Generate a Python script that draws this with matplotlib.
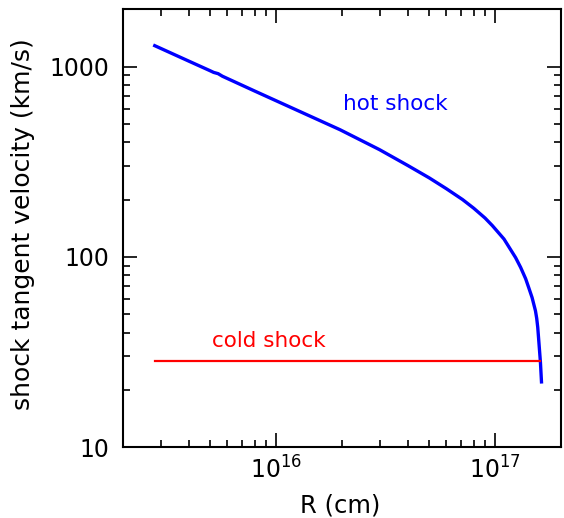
import matplotlib
matplotlib.use('Agg')
import matplotlib.pyplot as plt
from matplotlib.ticker import FixedLocator, FixedFormatter, LogLocator, NullFormatter

# hot shock tangent velocity vs radius
r_hot = [2.80e15, 4.0e15, 5.0e15, 5.2e15, 5.45e15, 5.7e15, 8.0e15, 1.2e16,
         1.96e16, 2.97e16, 4.0e16, 5.01e16, 6.0e16, 7.11e16, 8.0e16, 9.0e16,
         9.72e16, 1.099e17, 1.242e17, 1.309e17, 1.38e17, 1.427e17, 1.477e17,
         1.53e17, 1.55e17, 1.567e17, 1.584e17, 1.612e17, 1.630e17]
v_hot = [1288, 1069, 952, 932, 918, 890, 744, 602,
         466, 366, 302, 260, 228, 200, 180, 160,
         146, 124, 99, 88, 76.7, 68.6, 61,
         52, 47.5, 42.6, 36.3, 27.9, 22.0]

# cold shock stays flat
r_cold = [2.80e15, 1.600e17]
v_cold = [28.2, 28.2]

y_ticks = [10, 100, 1000]
y_labels = ['10', '100', '1000']

plt.rcParams['font.family'] = 'DejaVu Sans'

fig = plt.figure(figsize=(5.64, 5.18), dpi=100)
ax = fig.add_axes([0.2176, 0.137, 0.777, 0.845])

ax.plot(r_hot, v_hot, color='blue', lw=2.4, solid_joinstyle='round')
ax.plot(r_cold, v_cold, color='red', lw=1.6)

ax.set_xscale('log')
ax.set_yscale('log')
ax.set_xlim(2e15, 2e17)
ax.set_ylim(10, 2000)

ax.yaxis.set_major_locator(FixedLocator(y_ticks))
ax.yaxis.set_major_formatter(FixedFormatter(y_labels))
ax.yaxis.set_minor_locator(LogLocator(base=10, subs=range(2, 10)))
ax.yaxis.set_minor_formatter(NullFormatter())
ax.xaxis.set_minor_locator(LogLocator(base=10, subs=range(2, 10)))
ax.xaxis.set_minor_formatter(NullFormatter())

ax.tick_params(which='both', direction='in', top=True, right=True,
               width=1.2, labelsize=17)
ax.tick_params(axis='y', pad=10)
ax.tick_params(axis='x', pad=7)
ax.tick_params(which='major', length=10)
ax.tick_params(which='minor', length=5)
for s in ax.spines.values():
    s.set_linewidth(1.5)

ax.set_xlabel('R (cm)', fontsize=17.5)
ax.set_ylabel('shock tangent velocity (km/s)', fontsize=18)
ax.xaxis.set_label_coords(0.496, -0.106)
ax.yaxis.set_label_coords(-0.2, 0.51)

ax.text(3.5e16, 593, 'hot shock', color='blue', fontsize=15.5,
        ha='center', va='baseline')
ax.text(9.26e15, 33.4, 'cold shock', color='red', fontsize=15.5,
        ha='center', va='baseline')

fig.savefig('out.png', dpi=100)
